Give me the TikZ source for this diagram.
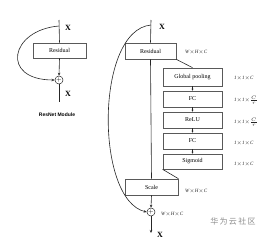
\documentclass[tikz,border=0pt]{standalone}
\usepackage{fontspec}
\setmainfont{Liberation Serif}
\newfontfamily\cjkf{Noto Sans CJK SC}
\newfontfamily\sansf{Liberation Sans}
\usetikzlibrary{arrows.meta}
\begin{document}
\begin{tikzpicture}[x=1pt,y=-1pt,
  blk/.style={draw=black!65,line width=0.7pt,fill=white,inner sep=0pt,font=\fontsize{6}{7}\selectfont},
  dim/.style={font=\itshape\fontsize{5}{6}\selectfont,text=black!85,anchor=west,inner sep=0pt},
  xl/.style={font=\bfseries\fontsize{8}{9}\selectfont,inner sep=0pt},
  ln/.style={draw=black!85,line width=0.6pt},
  arr/.style={ln,-{Stealth[length=3pt,width=2.5pt]}},
  sarr/.style={ln,-{Stealth[length=2pt,width=2pt]}},
  plus/.style={draw=black!85,circle,line width=0.5pt,minimum size=8pt,inner sep=0pt,font=\fontsize{6}{6}\selectfont}
]
\useasboundingbox (0,0) rectangle (274,244);
% left ResNet module
\coordinate (lt) at (59,20);
\node[xl] (lx1) at (68,28) {X};
\node[blk,minimum width=53pt,minimum height=15pt] (lres) at (59.5,50.5) {Residual};
\node[plus] (lp) at (59,80) {$+$};
\coordinate (lb) at (59,102);
\node[xl] (lx2) at (68,94) {X};
\node[font=\sansf\bfseries\fontsize{5}{6}\selectfont] (lt2) at (57,115) {ResNet Module};
\draw[ln] (lt) -- (lres.north);
\draw[arr] (lres.south) -- (lp.north);
\draw[ln] (lp.south) -- (lb);
\draw[arr] (59,26) .. controls (10,30) and (0,80) .. (lp.west);
% right SE module
\coordinate (rt) at (151,20);
\node[xl] (rx1) at (162,27) {X};
\node[blk,minimum width=51pt,minimum height=16pt] (rres) at (150.5,51) {Residual};
\node[dim] (d0) at (185,52) {W$\times$H$\times$C};
\node[blk,minimum width=59pt,minimum height=18pt] (gp) at (192.5,77) {Global pooling};
\node[blk,minimum width=59pt,minimum height=16pt] (fc1) at (192.5,99) {FC};
\node[blk,minimum width=59pt,minimum height=16pt] (relu) at (192.5,120) {ReLU};
\node[blk,minimum width=59pt,minimum height=16pt] (fc2) at (192.5,141) {FC};
\node[blk,minimum width=59pt,minimum height=15pt] (sig) at (192.5,161.5) {Sigmoid};
\node[dim] (d1) at (234,78) {1$\times$1$\times$C};
\node[dim] (d2) at (234,100) {1$\times$1$\times$$\scriptstyle\frac{C}{r}$};
\node[dim] (d3) at (234,122) {1$\times$1$\times$$\scriptstyle\frac{C}{r}$};
\node[dim] (d4) at (234,143) {1$\times$1$\times$C};
\node[dim] (d5) at (234,164) {1$\times$1$\times$C};
\node[blk,minimum width=53pt,minimum height=16pt] (scale) at (151.5,187) {Scale};
\node[dim] (d6) at (185,191) {W$\times$H$\times$C};
\node[plus] (rp) at (151,212) {$+$};
\node[dim] (d7) at (161,214) {W$\times$H$\times$C};
\coordinate (rb) at (151,233);
\node[xl] (rx2) at (160,235) {X};
\draw[ln] (rt) -- (rres.north);
\draw[ln] (rres.south) -- (scale.north);
\draw[ln] (rres.south east) -- (gp.north);
\draw[sarr] (gp.south) -- (fc1.north);
\draw[sarr] (fc1.south) -- (relu.north);
\draw[sarr] (relu.south) -- (fc2.north);
\draw[sarr] (fc2.south) -- (sig.north);
\draw[ln] (sig.south west) -- (scale.north east);
\draw[arr] (scale.south) -- (rp.north);
\draw[arr] (rp.south) -- (rb);
\draw[arr] (151,25) .. controls (95,30) and (95,200) .. (rp.west);
% watermark
\node[font=\cjkf\fontsize{8}{9}\selectfont,text=black!45] (wm) at (233,221) {华\,为\,云\,社\,区};
\end{tikzpicture}
\end{document}
